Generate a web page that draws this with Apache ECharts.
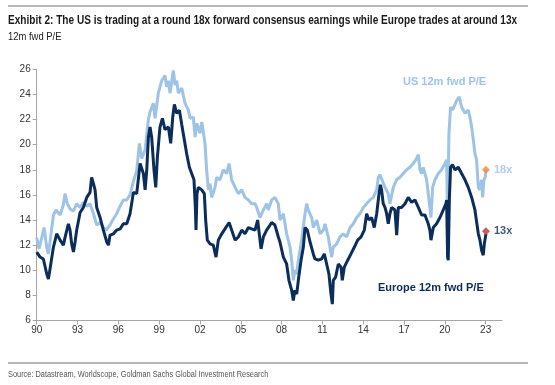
<!DOCTYPE html>
<html>
<head>
<meta charset="utf-8">
<script src="https://cdn.jsdelivr.net/npm/echarts@6/dist/echarts.min.js"></script>
<style>
html,body{margin:0;padding:0;background:#fff;}
#chart{width:555px;height:385px;}
</style>
</head>
<body>
<div id="chart"></div>
<script>
// ---- data ----
const usYears = [1990.00,1990.17,1990.37,1990.54,1990.74,1990.86,1991.03,1991.23,1991.42,1991.72,1991.96,1992.08,1992.25,1992.45,1992.70,1992.94,1993.19,1993.43,1993.68,1993.92,1994.17,1994.41,1994.66,1994.90,1995.10,1995.39,1995.64,1995.88,1996.13,1996.37,1996.62,1996.86,1997.11,1997.35,1997.55,1997.72,1997.97,1998.21,1998.33,1998.57,1998.70,1998.94,1999.19,1999.43,1999.55,1999.68,1999.80,2000.04,2000.17,2000.29,2000.41,2000.66,2000.90,2001.15,2001.27,2001.51,2001.64,2001.76,2002.00,2002.13,2002.25,2002.37,2002.49,2002.62,2002.74,2002.86,2003.11,2003.23,2003.47,2003.72,2003.96,2004.14,2004.33,2004.58,2004.82,2005.07,2005.31,2005.56,2005.80,2006.05,2006.17,2006.41,2006.66,2006.90,2007.02,2007.27,2007.51,2007.76,2007.88,2008.13,2008.37,2008.62,2008.74,2008.86,2008.98,2009.11,2009.23,2009.47,2009.72,2009.84,2009.96,2010.21,2010.33,2010.58,2010.83,2011.07,2011.19,2011.43,2011.68,2011.80,2012.05,2012.29,2012.54,2012.78,2013.03,2013.27,2013.52,2013.76,2014.01,2014.25,2014.50,2014.74,2014.99,2015.11,2015.23,2015.60,2015.84,2015.96,2016.21,2016.45,2016.70,2016.94,2017.19,2017.43,2017.68,2017.88,2018.05,2018.17,2018.29,2018.41,2018.66,2018.90,2018.98,2019.10,2019.27,2019.52,2019.76,2020.01,2020.13,2020.20,2020.30,2020.42,2020.55,2020.67,2020.86,2021.06,2021.23,2021.48,2021.72,2021.84,2021.97,2022.09,2022.21,2022.33,2022.46,2022.58,2022.70,2022.78,2022.87,2022.97,2023.02];
const usPE = [12.6,11.7,12.6,13.4,11.8,11.3,12.7,14.4,14.8,14.4,15.2,16.1,15.3,14.9,14.7,15.3,15.0,15.4,15.1,15.3,14.5,13.6,13.8,13.4,13.2,13.6,14.1,14.5,15.1,15.6,15.6,16.0,17.1,17.9,20.1,18.9,19.6,22.0,22.6,23.3,22.1,24.1,25.1,25.5,24.6,25.1,24.1,25.9,24.75,25.1,24.1,24.5,23.3,22.75,22.1,22.2,20.6,21.7,20.9,21.8,21.0,20.1,18.0,16.4,16.9,15.8,16.6,17.4,17.2,18.0,17.7,18.5,17.2,16.6,16.1,16.4,15.8,15.6,15.3,15.3,15.0,14.2,14.8,15.3,14.8,15.6,15.8,15.3,14.0,14.5,12.9,11.85,10.8,9.2,10.0,9.7,10.8,12.4,14.5,15.3,14.8,14.2,13.4,14.0,12.9,13.2,13.7,12.65,11.05,11.85,12.1,12.65,12.9,12.65,13.4,13.7,14.2,14.5,15.0,15.3,15.6,15.8,16.4,17.4,17.6,16.6,16.1,15.3,16.6,17.2,17.4,17.7,18.0,18.2,18.5,18.8,19.2,18.0,17.7,18.2,17.2,15.0,14.2,16.6,17.2,17.7,18.0,18.5,18.8,14.0,20.9,23.0,22.75,23.0,23.5,23.8,23.0,22.5,22.75,22.2,21.4,20.4,19.3,18.8,16.6,16.4,17.2,15.8,17.2,17.4,18.0];

const euYears = [1990.00,1990.25,1990.49,1990.74,1990.86,1990.98,1991.23,1991.47,1991.72,1991.96,1992.08,1992.33,1992.45,1992.57,1992.70,1992.82,1992.94,1993.19,1993.43,1993.68,1993.92,1994.04,1994.17,1994.29,1994.41,1994.66,1994.78,1994.90,1995.15,1995.27,1995.39,1995.64,1995.88,1996.13,1996.37,1996.62,1996.86,1997.11,1997.35,1997.60,1997.84,1997.97,1998.09,1998.21,1998.33,1998.45,1998.62,1998.75,1998.87,1999.06,1999.24,1999.43,1999.68,1999.85,2000.00,2000.12,2000.29,2000.49,2000.66,2000.85,2001.02,2001.22,2001.39,2001.56,2001.66,2001.71,2001.78,2001.88,2002.13,2002.32,2002.42,2002.54,2002.74,2002.98,2003.18,2003.35,2003.60,2003.84,2004.14,2004.33,2004.58,2004.82,2005.07,2005.31,2005.56,2005.80,2006.05,2006.24,2006.37,2006.49,2006.66,2006.90,2007.15,2007.27,2007.51,2007.76,2007.88,2008.13,2008.37,2008.54,2008.74,2008.86,2008.98,2009.11,2009.23,2009.43,2009.60,2009.72,2009.89,2010.09,2010.21,2010.33,2010.45,2010.70,2010.94,2011.14,2011.31,2011.48,2011.63,2011.73,2011.80,2011.97,2012.17,2012.37,2012.46,2012.61,2012.86,2013.10,2013.35,2013.59,2013.84,2014.08,2014.25,2014.42,2014.62,2014.81,2014.99,2015.16,2015.26,2015.35,2015.47,2015.60,2015.72,2015.84,2015.96,2016.09,2016.33,2016.46,2016.58,2016.82,2017.07,2017.31,2017.56,2017.80,2018.05,2018.29,2018.54,2018.78,2018.90,2018.98,2019.15,2019.39,2019.64,2019.88,2020.08,2020.13,2020.20,2020.25,2020.33,2020.42,2020.57,2020.74,2020.99,2021.23,2021.48,2021.72,2021.97,2022.21,2022.46,2022.58,2022.70,2022.82,2022.90,2023.02];
const euPE = [11.45,11.05,10.9,9.7,9.3,10.1,11.85,12.9,12.4,12.0,12.6,13.7,13.2,12.1,11.45,12.25,13.2,14.6,15.0,15.8,16.2,17.4,16.9,16.4,15.0,14.2,13.7,13.2,12.25,12.0,12.8,12.9,13.2,13.3,13.7,13.7,14.5,16.2,16.1,18.5,17.7,16.4,18.0,20.6,21.4,20.6,18.0,16.6,19.0,21.4,22.1,21.2,21.4,20.1,22.2,23.2,22.5,22.75,21.6,20.4,19.3,18.2,17.7,17.2,15.0,13.2,16.1,16.6,16.4,16.1,14.0,12.4,12.1,12.0,11.05,12.4,12.9,13.3,13.8,13.2,12.4,12.65,13.2,12.9,13.4,13.3,13.2,14.0,12.8,11.7,12.65,13.2,13.6,13.8,13.6,12.65,12.25,11.05,10.5,9.2,8.4,7.6,8.4,8.1,9.2,10.8,11.85,13.4,13.2,12.25,12.4,11.3,10.9,10.8,10.9,11.3,10.5,9.7,8.1,7.3,9.2,9.45,10.5,10.25,9.2,10.25,10.8,11.3,11.85,12.4,12.65,13.2,14.5,14.0,14.2,13.4,14.5,16.1,16.8,16.4,15.3,15.0,14.5,13.7,14.5,15.0,14.8,12.8,15.0,15.0,15.3,15.8,15.4,15.6,15.0,14.4,14.4,13.7,13.2,12.4,13.4,13.7,14.2,14.8,15.3,15.6,11.05,10.8,15.6,18.2,18.4,18.0,18.2,17.7,17.2,16.6,15.8,14.8,12.9,12.4,11.6,11.2,12.1,12.9];

const latestYear = 2023.02;
const latestUS = 18.0;
const latestEU = 13.1;
const latestLabels = ['18x', '13x'];

const xTickYears = [1990,1993,1996,1999,2002,2005,2008,2011,2014,2017,2020,2023];
const xTickLabels = ['90','93','96','99','02','05','08','11','14','17','20','23'];

const seriesNames = ['US 12m fwd P/E', 'Europe 12m fwd P/E'];
const titleText = 'Exhibit 2: The US is trading at a round 18x forward consensus earnings while Europe trades at around 13x';
const subtitleText = '12m fwd P/E';
const sourceText = 'Source: Datastream, Worldscope, Goldman Sachs Global Investment Research';

// ---- styling ----
const US_COLOR = '#9DC3E6';
const EU_COLOR = '#0B2D5B';
const SANS = '"Liberation Sans", Arial, sans-serif';
const NARROW_SCALE = 0.82; // emulate a narrow face by compressing Liberation Sans

const chart = echarts.init(document.getElementById('chart'), null, {renderer: 'canvas'});

const pairs = (xs, ys) => xs.map((x, i) => [x, ys[i]]);

chart.setOption({
  animation: false,
  backgroundColor: '#fff',
  grid: {left: 36.7, right: 53, top: 69.3, bottom: 64.5, containLabel: false},
  xAxis: {
    type: 'value',
    min: 1990,
    max: 2024.2,
    splitLine: {show: false},
    axisLine: {show: true, lineStyle: {color: '#A6A6A6', width: 1}},
    axisTick: {show: true, length: 4, lineStyle: {color: '#A6A6A6'}, customValues: xTickYears},
    axisLabel: {
      customValues: xTickYears,
      formatter: v => xTickLabels[xTickYears.indexOf(Math.round(v))] || '',
      color: '#333', fontFamily: SANS, fontSize: 10, margin: 5
    }
  },
  yAxis: {
    type: 'value',
    min: 6, max: 26, interval: 2,
    splitLine: {show: false},
    axisLine: {show: true, lineStyle: {color: '#A6A6A6', width: 1}},
    axisTick: {show: true, length: 4, lineStyle: {color: '#A6A6A6'}},
    axisLabel: {color: '#333', fontFamily: SANS, fontSize: 10, margin: 6}
  },
  series: [
    {
      name: seriesNames[0], type: 'line', data: pairs(usYears, usPE),
      showSymbol: false, symbol: 'none',
      lineStyle: {color: US_COLOR, width: 3}, z: 2
    },
    {
      name: seriesNames[1], type: 'line', data: pairs(euYears, euPE),
      showSymbol: false, symbol: 'none',
      lineStyle: {color: EU_COLOR, width: 3}, z: 3
    },
    {
      type: 'scatter', symbol: 'diamond', symbolSize: 8, z: 5,
      data: [
        {value: [latestYear, latestUS], itemStyle: {color: '#EE8A36'},
         label: {formatter: latestLabels[0], color: US_COLOR}},
        {value: [latestYear, latestEU], itemStyle: {color: '#C5302C'},
         label: {formatter: latestLabels[1], color: EU_COLOR}}
      ],
      label: {show: true, position: 'right', distance: 4, fontFamily: SANS, fontWeight: 'bold', fontSize: 11}
    }
  ],
  graphic: [
    {type: 'line', shape: {x1: 8, y1: 6, x2: 528, y2: 6}, style: {stroke: '#A0A0A0', lineWidth: 1.5}},
    {type: 'text', x: 8, y: 21, scaleX: 0.84, style: {text: titleText, font: 'bold 12px ' + SANS, fill: '#1a1a1a', verticalAlign: 'middle'}},
    {type: 'text', x: 8, y: 36.5, scaleX: NARROW_SCALE, style: {text: subtitleText, font: '11.5px ' + SANS, fill: '#222', verticalAlign: 'middle'}},
    {type: 'text', x: 403, y: 82, style: {text: seriesNames[0], font: 'bold 11px ' + SANS, fill: US_COLOR, verticalAlign: 'middle'}},
    {type: 'text', x: 378, y: 288, style: {text: seriesNames[1], font: 'bold 11px ' + SANS, fill: EU_COLOR, verticalAlign: 'middle'}},
    {type: 'line', shape: {x1: 8, y1: 363, x2: 528, y2: 363}, style: {stroke: '#A0A0A0', lineWidth: 1.5}},
    {type: 'text', x: 8, y: 375, scaleX: NARROW_SCALE, style: {text: sourceText, font: '9px ' + SANS, fill: '#555', verticalAlign: 'middle'}}
  ]
});
</script>
</body>
</html>
